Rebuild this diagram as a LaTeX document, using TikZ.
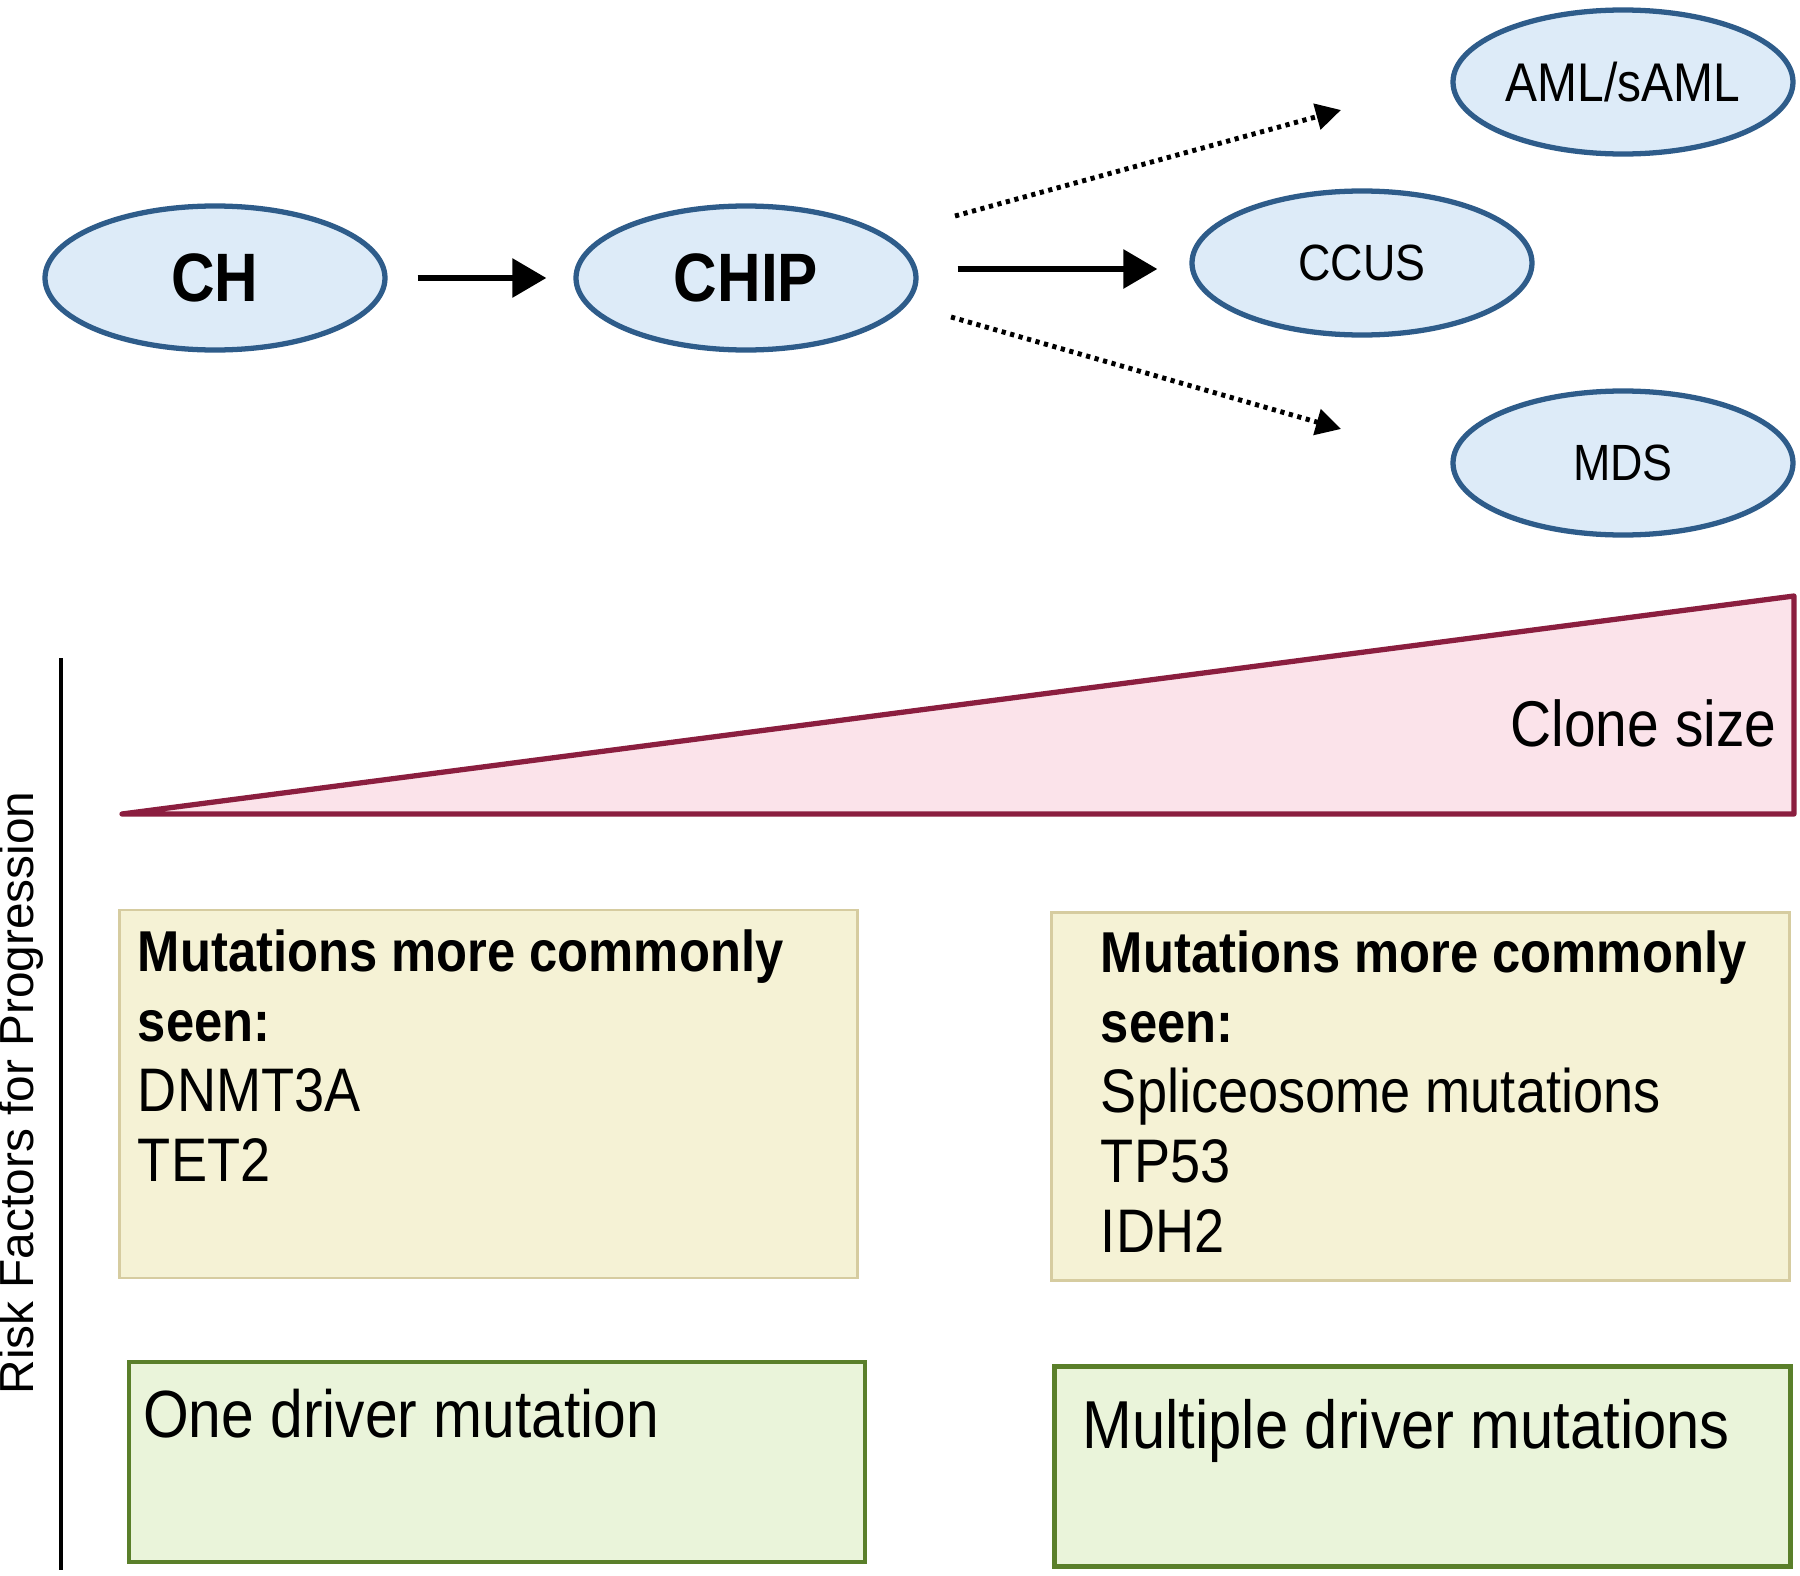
\documentclass[tikz,border=0pt]{standalone}
\usepackage{fontspec}
\setmainfont[FakeStretch=0.88]{Liberation Sans}
\newfontfamily\axisfont{Liberation Sans}
\usepackage{xcolor}
\definecolor{stagefill}{RGB}{221,235,248}
\definecolor{stageedge}{RGB}{46,92,138}
\definecolor{clonefill}{RGB}{251,227,234}
\definecolor{cloneedge}{RGB}{139,30,63}
\definecolor{mutfill}{RGB}{245,242,213}
\definecolor{mutedge}{RGB}{214,204,160}
\definecolor{driverfill}{RGB}{234,244,218}
\definecolor{driveredge}{RGB}{90,127,42}
\newcommand{\muthead}[1]{\textbf{\fontsize{16.4}{19.9}\selectfont #1}}
\usetikzlibrary{shapes, arrows.meta, positioning, calc}

\begin{document}
\begin{tikzpicture}[
    stage/.style={ellipse, draw=stageedge, fill=stagefill, line width=1.5pt, minimum width=3.4cm, minimum height=1.44cm, inner sep=0pt},
    flow/.style={-{Triangle[length=0.34cm, width=0.38cm]}, line width=1.7pt},
    maybe/.style={-{Triangle[length=0.25cm, width=0.26cm]}, line width=1.4pt, dash pattern=on 1.2pt off 1.3pt},
    mutbox/.style={rectangle, draw=mutedge, fill=mutfill, line width=0.7pt, minimum width=7.38cm, minimum height=3.68cm, inner sep=0pt},
    driverbox/.style={rectangle, draw=driveredge, fill=driverfill, line width=1.4pt, minimum width=7.36cm, minimum height=2cm, inner sep=0pt},
    boxtext/.style={align=left, inner sep=0pt, font=\fontsize{17.5}{19.9}\selectfont}
]
    \useasboundingbox (0,0) rectangle (18,-15.76);

    \node[stage, font=\fontsize{19.5}{22}\selectfont\bfseries] (ch) at (2.15,-2.78) {CH};
    \node[stage, font=\fontsize{19.5}{22}\selectfont\bfseries] (chip) at (7.46,-2.78) {CHIP};
    \node[stage, font=\fontsize{14.5}{17}\selectfont] (ccus) at (13.62,-2.63) {CCUS};
    \node[stage, font=\fontsize{15.5}{18}\selectfont] (aml) at (16.23,-0.82) {AML/sAML};
    \node[stage, font=\fontsize{14.5}{17}\selectfont] (mds) at (16.23,-4.63) {MDS};

    \draw[flow, shorten <=0.3cm, shorten >=0.27cm] (ch) -- (chip);
    \draw[flow, shorten <=0.39cm, shorten >=0.32cm] ([yshift=0.09cm]chip.east) -- ([yshift=0.09cm]chip.east -| ccus.west);

    \coordinate (upstart) at (9.55,-2.16);
    \coordinate (upend) at (13.41,-1.10);
    \coordinate (downstart) at (9.51,-3.17);
    \coordinate (downend) at (13.41,-4.29);
    \draw[maybe] (upstart) -- (upend);
    \draw[maybe] (downstart) -- (downend);

    \draw[draw=cloneedge, fill=clonefill, line width=1.5pt, line join=round] (1.22,-8.14) -- (17.94,-5.96) -- (17.94,-8.14) -- cycle;
    \node[anchor=east, inner sep=0pt, font=\fontsize{18.4}{21}\selectfont] (clone) at (17.77,-7.23) {Clone size};

    \coordinate (axistop) at (0.61,-6.58);
    \coordinate (axisbottom) at (0.61,-15.70);
    \draw[line width=1.2pt] (axistop) -- (axisbottom);
    \node[rotate=90, inner sep=0pt, font=\axisfont\fontsize{13.6}{16}\selectfont] (risk) at (0.21,-10.93) {Risk Factors for Progression};

    \node[mutbox] (leftmut) at (4.885,-10.94) {};
    \node[mutbox] (rightmut) at (14.205,-10.965) {};
    \node[boxtext, below right=0.2cm and 0.19cm of leftmut.north west] (leftmuttext)
        {\muthead{Mutations more commonly}\\ \muthead{seen:}\\ DNMT3A\\ TET2};
    \node[boxtext, below right=0.19cm and 0.5cm of rightmut.north west] (rightmuttext)
        {\muthead{Mutations more commonly}\\ \muthead{seen:}\\ Spliceosome mutations\\ TP53\\ IDH2};

    \node[driverbox] (onedriver) at (4.97,-14.62) {};
    \node[driverbox] (multidriver) at (14.225,-14.665) {};
    \node[boxtext, font=\fontsize{19}{22}\selectfont, below right=0.29cm and 0.16cm of onedriver.north west] (onedrivertext) {One driver mutation};
    \node[boxtext, font=\fontsize{19.3}{22}\selectfont, below right=0.35cm and 0.3cm of multidriver.north west] (multidrivertext) {Multiple driver mutations};
\end{tikzpicture}
\end{document}
